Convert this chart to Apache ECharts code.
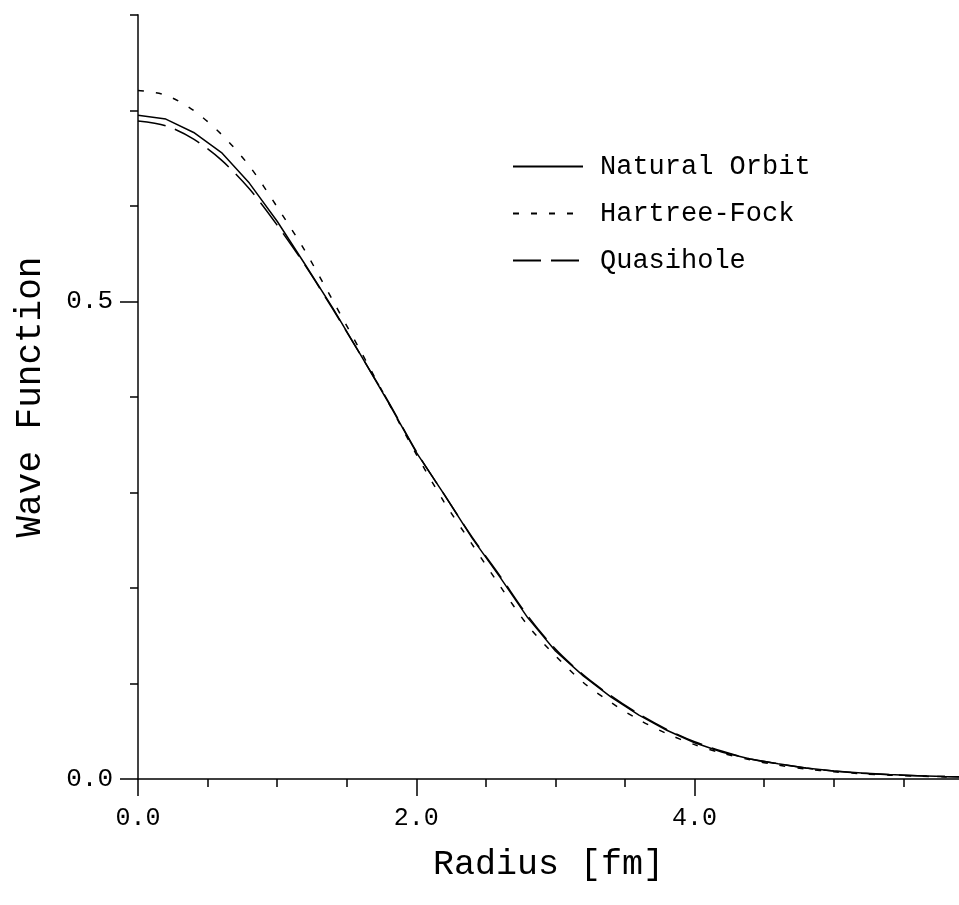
<!DOCTYPE html>
<html>
<head>
<meta charset="utf-8">
<title>Wave Function</title>
<script src="https://cdn.jsdelivr.net/npm/echarts@6/dist/echarts.min.js"></script>
<style>
  html, body { margin: 0; padding: 0; background: #ffffff; }
  #chart { width: 959px; height: 905px; }
</style>
</head>
<body>
<div id="chart"></div>
<script>
// radius grid [fm]
const radius = [0.0, 0.2, 0.4, 0.6, 0.8, 1.0, 1.2, 1.4, 1.6, 1.8, 2.0, 2.2, 2.4, 2.6, 2.8, 3.0,
  3.2, 3.4, 3.6, 3.8, 4.0, 4.2, 4.4, 4.6, 4.8, 5.0, 5.2, 5.4, 5.6, 5.8, 5.9]

const naturalOrbit = [0.695, 0.691, 0.677, 0.656, 0.624, 0.584, 0.539, 0.493, 0.444, 0.394, 0.342,
  0.298, 0.2525, 0.2116, 0.169, 0.134, 0.108, 0.0858, 0.0668, 0.051, 0.038, 0.028, 0.021, 0.016,
  0.0115, 0.0083, 0.0062, 0.0047, 0.0035, 0.0026, 0.0023]

const hartreeFock = [0.721, 0.716, 0.700, 0.675, 0.642, 0.599, 0.553, 0.501, 0.448, 0.394, 0.340,
  0.290, 0.246, 0.2025, 0.161, 0.129, 0.101, 0.080, 0.062, 0.0475, 0.036, 0.027, 0.020, 0.0145,
  0.0105, 0.0076, 0.0055, 0.004, 0.003, 0.0022, 0.002]

const quasihole = [0.689, 0.684, 0.670, 0.648, 0.618, 0.580, 0.538, 0.492, 0.444, 0.395, 0.343,
  0.298, 0.2535, 0.213, 0.171, 0.136, 0.109, 0.087, 0.068, 0.052, 0.039, 0.029, 0.021, 0.016,
  0.0115, 0.0083, 0.006, 0.0045, 0.0034, 0.0025, 0.0022]

// tick positions
const xMajorTicks = [0, 2, 4]
const xMinorTicks = [0.5, 1, 1.5, 2.5, 3, 3.5, 4.5, 5, 5.5]
const yMajorTicks = [0, 0.5]
const yMinorTicks = [0.1, 0.2, 0.3, 0.4, 0.6, 0.7, 0.8]

const FONT = '"Liberation Mono", "DejaVu Sans Mono", monospace'

const pairs = (ys) => radius.map((r, i) => [r, ys[i]])

const chart = echarts.init(document.getElementById('chart'))

const option = {
  backgroundColor: '#ffffff',
  animation: false,
  grid: { left: 138, right: 0, top: 15, bottom: 126 },
  legend: {
    orient: 'vertical',
    left: 507,
    top: 148,
    itemWidth: 70,
    itemHeight: 22,
    itemGap: 20,
    // hide the symbol the line series puts in the legend icon
    itemStyle: { color: 'rgba(0,0,0,0)', borderColor: 'rgba(0,0,0,0)', borderWidth: 0 },
    textStyle: {
      fontFamily: FONT,
      fontSize: 27,
      color: '#000',
      padding: [0, 0, 0, 12]
    },
    data: ['Natural Orbit', 'Hartree-Fock', 'Quasihole']
  },
  xAxis: [
    {
      type: 'value',
      min: 0,
      max: 5.9,
      position: 'bottom',
      name: 'Radius [fm]',
      nameLocation: 'middle',
      nameGap: 68,
      nameTextStyle: { fontFamily: FONT, fontSize: 35, color: '#000' },
      axisLine: { show: true, lineStyle: { color: '#000', width: 1.5 } },
      axisTick: { show: true, length: 17, customValues: xMajorTicks, lineStyle: { color: '#000', width: 1.5 } },
      axisLabel: {
        customValues: xMajorTicks,
        margin: 27,
        fontFamily: FONT,
        fontSize: 25,
        color: '#000',
        formatter: (v) => v.toFixed(1)
      },
      splitLine: { show: false }
    },
    {
      type: 'value',
      min: 0,
      max: 5.9,
      position: 'bottom',
      axisLine: { show: false },
      axisTick: { show: true, length: 8, customValues: xMinorTicks, lineStyle: { color: '#000', width: 1.5 } },
      axisLabel: { show: false },
      splitLine: { show: false }
    }
  ],
  yAxis: [
    {
      type: 'value',
      min: 0,
      max: 0.8,
      position: 'left',
      name: 'Wave Function',
      nameLocation: 'middle',
      nameGap: 90,
      nameTextStyle: { fontFamily: FONT, fontSize: 36, color: '#000' },
      axisLine: { show: true, lineStyle: { color: '#444', width: 2 } },
      axisTick: { show: true, length: 18, customValues: yMajorTicks, lineStyle: { color: '#000', width: 1.5 } },
      axisLabel: {
        customValues: yMajorTicks,
        margin: 25,
        fontFamily: FONT,
        fontSize: 26,
        color: '#000',
        formatter: (v) => v.toFixed(1)
      },
      splitLine: { show: false }
    },
    {
      type: 'value',
      min: 0,
      max: 0.8,
      position: 'left',
      axisLine: { show: false },
      axisTick: { show: true, length: 8, customValues: yMinorTicks, lineStyle: { color: '#000', width: 1.5 } },
      axisLabel: { show: false },
      splitLine: { show: false }
    }
  ],
  series: [
    {
      name: 'Natural Orbit',
      type: 'line',
      xAxisIndex: 0,
      yAxisIndex: 0,
      showSymbol: false,
      symbol: 'none',
      data: pairs(naturalOrbit),
      lineStyle: { color: '#000', width: 1.5, type: 'solid' },
      itemStyle: { color: '#000' }
    },
    {
      name: 'Hartree-Fock',
      type: 'line',
      xAxisIndex: 0,
      yAxisIndex: 0,
      showSymbol: false,
      symbol: 'none',
      smooth: 0.3,
      data: pairs(hartreeFock),
      lineStyle: { color: '#000', width: 1.5, type: [6, 12] },
      itemStyle: { color: '#000' }
    },
    {
      name: 'Quasihole',
      type: 'line',
      xAxisIndex: 0,
      yAxisIndex: 0,
      showSymbol: false,
      symbol: 'none',
      smooth: 0.3,
      data: pairs(quasihole),
      lineStyle: { color: '#000', width: 1.5, type: [28, 10] },
      itemStyle: { color: '#000' }
    }
  ]
}

chart.setOption(option)
</script>
</body>
</html>
